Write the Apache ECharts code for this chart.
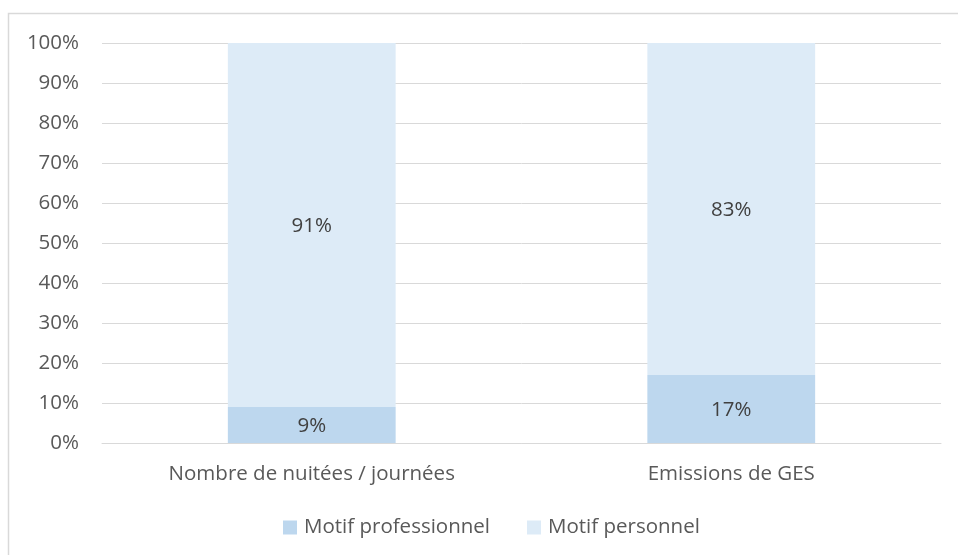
<!DOCTYPE html>
<html>
<head>
<meta charset="utf-8">
<script src="https://cdn.jsdelivr.net/npm/echarts@6/dist/echarts.min.js"></script>
<style>
  html, body { margin: 0; padding: 0; background: #fff; }
  #chart { width: 958px; height: 555px; }
</style>
</head>
<body>
<div id="chart"></div>
<script>
// Categories and shares (percent) by travel purpose
const categories = ['Nombre de nuitées / journées', 'Emissions de GES'];
const professionnel = [9, 17];
const personnel = [91, 83];
const yTicks = [0, 10, 20, 30, 40, 50, 60, 70, 80, 90, 100];

const FONT = '"Open Sans", Lato, sans-serif';
const TEXT = '#595959';
const SIZE = 20.5;

const chart = echarts.init(document.getElementById('chart'));

const labelStyle = {
  show: true,
  position: 'inside',
  offset: [0, 1.5],
  formatter: p => p.value + '%',
  color: '#404040',
  fontFamily: FONT,
  fontSize: SIZE
};

chart.setOption({
  animation: false,
  graphic: [{
    type: 'rect',
    shape: { x: 8.5, y: 13.5, width: 960, height: 560 },
    style: { fill: 'none', stroke: '#D9D9D9', lineWidth: 1.5 },
    silent: true
  }],
  grid: { left: 102, right: 17, top: 43, bottom: 112 },
  legend: {
    bottom: 12,
    left: 278,
    itemWidth: 14,
    itemHeight: 14,
    itemGap: 37,
    icon: 'rect',
    textStyle: { color: TEXT, fontFamily: FONT, fontSize: SIZE, padding: [0, 0, 0, 2] },
    data: ['Motif professionnel', 'Motif personnel']
  },
  xAxis: {
    type: 'category',
    data: categories,
    axisLine: { lineStyle: { color: '#D9D9D9', width: 1 } },
    axisTick: { show: false },
    axisLabel: { color: TEXT, fontFamily: FONT, fontSize: SIZE, margin: 21 }
  },
  yAxis: {
    type: 'value',
    min: yTicks[0],
    max: yTicks[yTicks.length - 1],
    interval: 10,
    axisLine: { show: false },
    axisTick: { show: false },
    splitLine: { lineStyle: { color: '#D9D9D9', width: 1 } },
    axisLabel: {
      color: TEXT, fontFamily: FONT, fontSize: SIZE, margin: 23,
      formatter: v => v + '%'
    }
  },
  series: [
    {
      name: 'Motif professionnel',
      type: 'bar',
      stack: 'total',
      data: professionnel,
      barWidth: '40%',
      itemStyle: { color: '#BDD7EE' },
      label: labelStyle
    },
    {
      name: 'Motif personnel',
      type: 'bar',
      stack: 'total',
      data: personnel,
      barWidth: '40%',
      itemStyle: { color: '#DDEBF7' },
      label: labelStyle
    }
  ]
});
</script>
</body>
</html>
